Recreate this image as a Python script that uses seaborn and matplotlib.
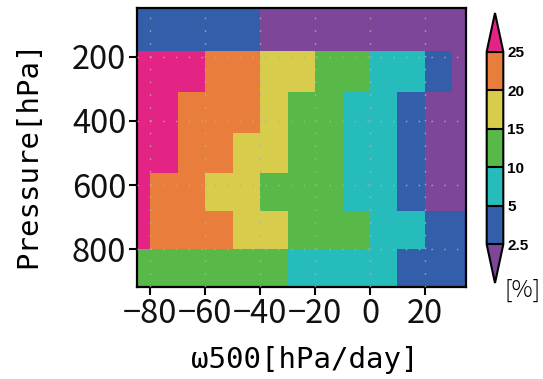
import numpy as np
import matplotlib
matplotlib.use("Agg")
import matplotlib.pyplot as plt
import seaborn as sns
from matplotlib.colors import ListedColormap, BoundaryNorm

# ---- data ----
omega_edges = [-90, -80, -70, -60, -50, -40, -30, -20, -10, 0, 10, 20, 30, 40]
pressure_edges = [50, 182, 310, 437, 561, 681, 800, 918]
levels = [2.5, 5, 10, 15, 20, 25]
level_labels = ["2.5", "5", "10", "15", "20", "25"]
xticks = [-80, -60, -40, -20, 0, 20]
yticks = [200, 400, 600, 800]

# frequency [%] per pressure bin (top -> bottom), per omega bin (left -> right)
row_p1 = [3.8, 3.8, 3.8, 3.8, 3.8, 1.5, 1.5, 1.5, 1.5, 1.5, 1.5, 1.5, 1.5]
row_p2 = [28.0, 28.0, 28.0, 22.5, 22.5, 17.5, 17.5, 12.5, 12.5, 7.5, 7.5, 3.8, 1.5]
row_p3 = [28.0, 28.0, 22.5, 22.5, 22.5, 17.5, 12.5, 12.5, 7.5, 7.5, 3.8, 1.5, 1.5]
row_p4 = [28.0, 28.0, 22.5, 22.5, 17.5, 17.5, 12.5, 12.5, 7.5, 7.5, 3.8, 1.5, 1.5]
row_p5 = [28.0, 22.5, 22.5, 17.5, 17.5, 12.5, 12.5, 12.5, 7.5, 7.5, 3.8, 1.5, 1.5]
row_p6 = [28.0, 22.5, 22.5, 22.5, 17.5, 17.5, 12.5, 12.5, 12.5, 7.5, 7.5, 3.8, 3.8]
row_p7 = [12.5, 12.5, 12.5, 12.5, 12.5, 12.5, 7.5, 7.5, 7.5, 7.5, 3.8, 3.8, 3.8]

colors = ["#7D4699", "#325EAA", "#26BCBC", "#58B848", "#D8CC4C", "#E87D3C", "#E42484"]

# ---- style ----
sns.set_theme(style="ticks")
plt.rcParams['font.family'] = ['Noto Sans CJK JP', 'DejaVu Sans']
plt.rcParams['axes.unicode_minus'] = True
for k in ['text.color', 'axes.labelcolor', 'xtick.color', 'ytick.color', 'axes.edgecolor']:
    plt.rcParams[k] = 'black'

tick_font = ['Liberation Sans Narrow', 'Noto Sans CJK JP', 'DejaVu Sans']
label_font = ['DejaVu Sans Mono', 'DejaVu Sans']

freq = np.array([row_p1, row_p2, row_p3, row_p4, row_p5, row_p6, row_p7])

cmap = ListedColormap(colors[1:-1])
cmap.set_under(colors[0])
cmap.set_over(colors[-1])
norm = BoundaryNorm(levels, cmap.N)

fig = plt.figure(figsize=(5.43, 3.79), dpi=100)
ax = fig.add_axes([0.2517, 0.242, 0.6065, 0.736])

mesh = ax.pcolormesh(omega_edges, pressure_edges, freq, cmap=cmap, norm=norm)
ax.set_xlim(-85, 35)
ax.set_ylim(918, 50)
ax.set_xticks(xticks)
ax.set_yticks(yticks)
ax.set_xticklabels([("\u2212%d" % -v) if v < 0 else "%d" % v for v in xticks])
ax.set_yticklabels(["%d" % v for v in yticks])
ax.grid(True, color="#b0b0b0", linewidth=1.0, linestyle=(0, (1.1, 8.1)), alpha=0.9)
ax.set_axisbelow(False)
for s in ax.spines.values():
    s.set_linewidth(1.6)
    s.set_color("black")
ax.tick_params(axis='both', direction='out', length=5.5, width=1.5, labelsize=23.5,
               colors='black', pad=2)
for t in ax.get_xticklabels() + ax.get_yticklabels():
    t.set_family(tick_font)
    t.set_color('#111111')

ax.set_xlabel("\u03c9500[hPa/day]", fontsize=21, family=label_font, color='black')
ax.xaxis.set_label_coords(0.51, -0.261)
ax.xaxis.label.set_verticalalignment('center')
ax.set_ylabel("Pressure[hPa]", fontsize=21, family=label_font, color='black')
ax.yaxis.set_label_coords(-0.330, 0.478)
ax.yaxis.label.set_verticalalignment('center')
ax.yaxis.label.set_horizontalalignment('center')

cax = fig.add_axes([0.8963, 0.2533, 0.0306, 0.7124])
cb = fig.colorbar(mesh, cax=cax, extend='both', extendfrac=0.2, drawedges=True,
                  ticks=levels)
cb.set_ticklabels(level_labels)
cb.outline.set_linewidth(1.5)
cb.outline.set_edgecolor('black')
cb.dividers.set_linewidth(1.5)
cb.dividers.set_color('black')
cax.tick_params(length=0, labelsize=11, pad=3, colors='black')
for t in cax.get_yticklabels():
    t.set_fontweight('bold')
    t.set_family(['Liberation Sans', 'DejaVu Sans'])
fig.text(0.962, 0.268, "[%]", fontsize=17, ha='center', va='top',
         family=['Noto Sans CJK JP', 'DejaVu Sans'], fontweight='light', color='black')

fig.savefig("out.png", dpi=100)
